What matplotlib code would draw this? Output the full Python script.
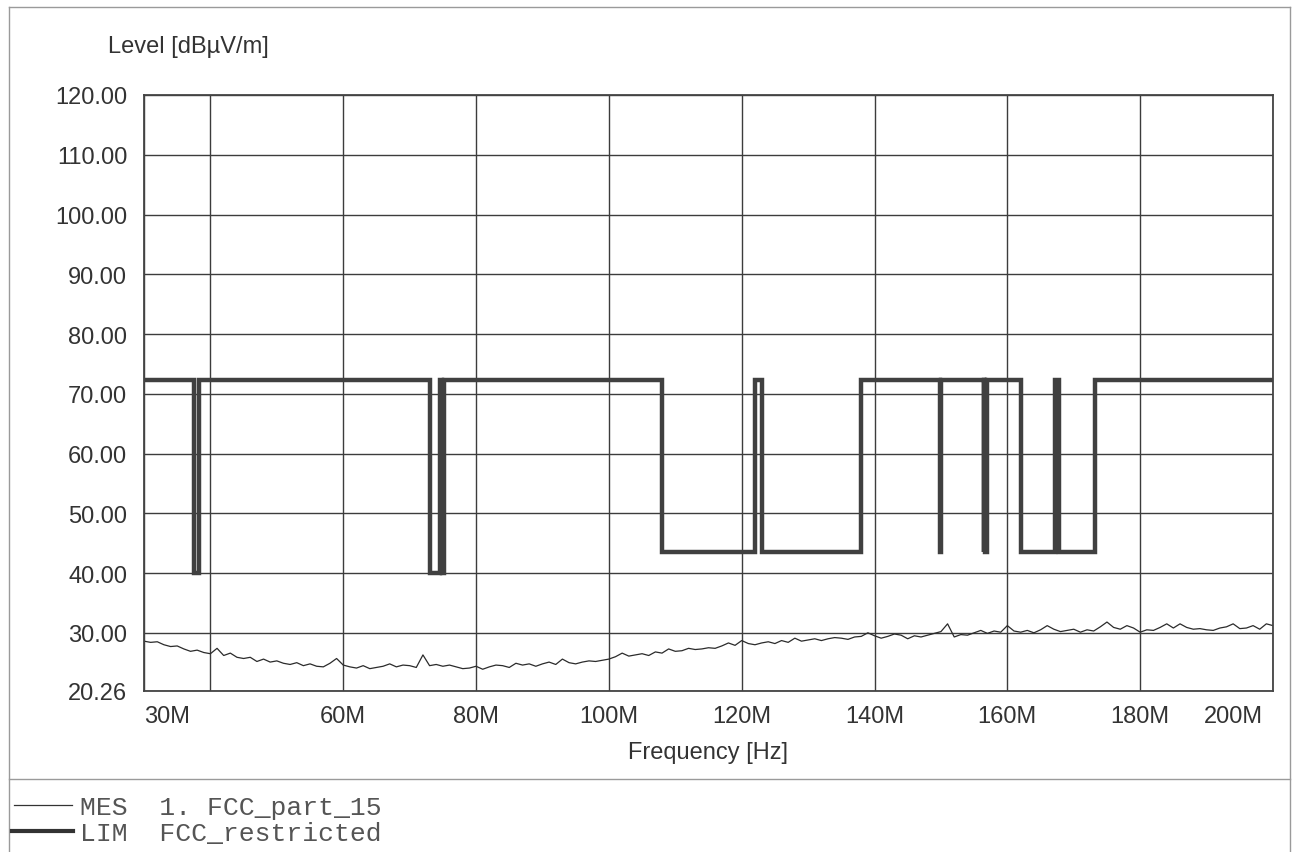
import numpy as np
import matplotlib
matplotlib.use('Agg')
import matplotlib.pyplot as plt
from matplotlib.lines import Line2D

# measured trace, 1 MHz steps from 30 to 200 MHz
freq_mhz = np.arange(30, 201, 1)
level_db = [
    28.6, 28.4, 28.5, 28.0, 27.7, 27.8, 27.3, 26.9, 27.1, 26.7,
    26.5, 27.4, 26.2, 26.6, 25.9, 25.7, 25.9, 25.2, 25.6, 25.1,
    25.3, 24.9, 24.7, 25.0, 24.5, 24.8, 24.4, 24.3, 24.9, 25.7,
    24.6, 24.3, 24.1, 24.5, 24.0, 24.2, 24.4, 24.8, 24.3, 24.6,
    24.5, 24.2, 26.3, 24.5, 24.7, 24.4, 24.6, 24.3, 24.0, 24.1,
    24.4, 23.9, 24.3, 24.6, 24.5, 24.2, 24.9, 24.6, 24.8, 24.4,
    24.8, 25.1, 24.7, 25.6, 25.0, 24.8, 25.1, 25.3, 25.2, 25.4,
    25.6, 26.0, 26.6, 26.1, 26.3, 26.5, 26.2, 26.8, 26.6, 27.3,
    26.9, 27.0, 27.4, 27.2, 27.3, 27.5, 27.4, 27.8, 28.3, 27.9,
    28.7, 28.2, 28.0, 28.3, 28.5, 28.2, 28.7, 28.4, 29.1, 28.6,
    28.8, 29.0, 28.7, 29.0, 29.2, 29.1, 28.9, 29.3, 29.4, 30.0,
    29.5, 29.1, 29.4, 29.8, 29.6, 29.0, 29.5, 29.3, 29.6, 29.9,
    30.2, 31.5, 29.3, 29.7, 29.6, 30.0, 30.4, 29.9, 30.3, 30.1,
    31.2, 30.3, 30.1, 30.4, 30.0, 30.5, 31.2, 30.6, 30.2, 30.4,
    30.6, 30.1, 30.5, 30.3, 31.0, 31.8, 30.9, 30.6, 31.2, 30.8,
    30.1, 30.5, 30.4, 30.9, 31.5, 30.8, 31.5, 30.9, 30.6, 30.7,
    30.5, 30.4, 30.8, 31.0, 31.5, 30.7, 30.8, 31.2, 30.6, 31.5,
    31.2,
]

# limit: high level outside restricted bands
limit_top = 72.3
band_start = [37.5, 73.0, 74.8, 108.0, 123.0, 149.9, 156.52475, 156.7, 162.0125, 167.72]
band_end = [38.25, 74.6, 75.2, 121.94, 138.0, 150.05, 156.52525, 156.9, 167.17, 173.2]
band_level = [40.0, 40.0, 40.0, 43.5, 43.5, 43.5, 43.5, 43.5, 43.5, 43.5]

x_ticks = [30, 40, 60, 80, 100, 120, 140, 160, 180, 200]
x_labels = ['30M', '', '60M', '80M', '100M', '120M', '140M', '160M', '180M', '']
y_ticks = [20.26, 30, 40, 50, 60, 70, 80, 90, 100, 110, 120]

lim_x = [30]
lim_y = [limit_top]
for a, b, lv in zip(band_start, band_end, band_level):
    lim_x += [a, a, b, b]
    lim_y += [limit_top, lv, lv, limit_top]
lim_x.append(200)
lim_y.append(limit_top)

plt.rcParams['font.family'] = ['Liberation Sans', 'DejaVu Sans']
txt = '#333333'
gridc = '#3c3c3c'
fs = 17

fig = plt.figure(figsize=(12.94, 8.53), dpi=100)
ax = fig.add_axes([144 / 1294, 1 - 692 / 853, (1273 - 144) / 1294, (692 - 96) / 853])

ax.plot(freq_mhz, level_db, color='#2b2b2b', lw=0.9)
ax.plot(lim_x, lim_y, color='#404040', lw=3.2, solid_joinstyle='miter')

ax.set_xlim(30, 200)
ax.set_ylim(20.26, 120)
ax.set_xticks(x_ticks)
ax.set_xticklabels(x_labels)
ax.set_yticks(y_ticks)
ax.set_yticklabels(['%.2f' % v for v in y_ticks])
ax.tick_params(length=0, labelsize=fs, labelcolor=txt)
ax.tick_params(axis='y', pad=12)
ax.tick_params(axis='x', pad=10)
ax.get_xticklabels()[0].set_horizontalalignment('left')
ax.annotate('200M', xy=(200, 0), xycoords=('data', 'axes fraction'),
            xytext=(-7, -10), textcoords='offset points',
            ha='right', va='top', fontsize=fs, color=txt)
ax.grid(True, color=gridc, lw=1.0)
for s in ax.spines.values():
    s.set_color('#444444')
    s.set_linewidth(1.3)
ax.set_xlabel('Frequency [Hz]', fontsize=fs, color=txt, labelpad=10)

fig.text(108 / 1294, 1 - 47 / 853, 'Level [dBµV/m]', fontsize=fs, color=txt,
         ha='left', va='center')

# outer frame and legend box
border = '#9a9a9a'
fig.add_artist(Line2D([9 / 1294, 1290 / 1294], [1 - 8 / 853, 1 - 8 / 853], color=border, lw=1.0))
fig.add_artist(Line2D([9 / 1294, 9 / 1294], [0, 1 - 8 / 853], color=border, lw=1.0))
fig.add_artist(Line2D([1290 / 1294, 1290 / 1294], [0, 1 - 8 / 853], color=border, lw=1.0))
fig.add_artist(Line2D([9 / 1294, 1290 / 1294], [1 - 780 / 853, 1 - 780 / 853], color=border, lw=1.0))

fig.add_artist(Line2D([14 / 1294, 72 / 1294], [1 - 806 / 853, 1 - 806 / 853], color='#333333', lw=0.9))
fig.add_artist(Line2D([12 / 1294, 73 / 1294], [1 - 832 / 853, 1 - 832 / 853], color='#333333', lw=3.0))
fig.text(80 / 1294, 1 - 808 / 853, 'MES  1. FCC_part_15', family='Liberation Mono',
         fontsize=19, color='#555555', ha='left', va='center')
fig.text(80 / 1294, 1 - 834 / 853, 'LIM  FCC_restricted', family='Liberation Mono',
         fontsize=19, color='#555555', ha='left', va='center')

plt.savefig('out.png', dpi=100)
